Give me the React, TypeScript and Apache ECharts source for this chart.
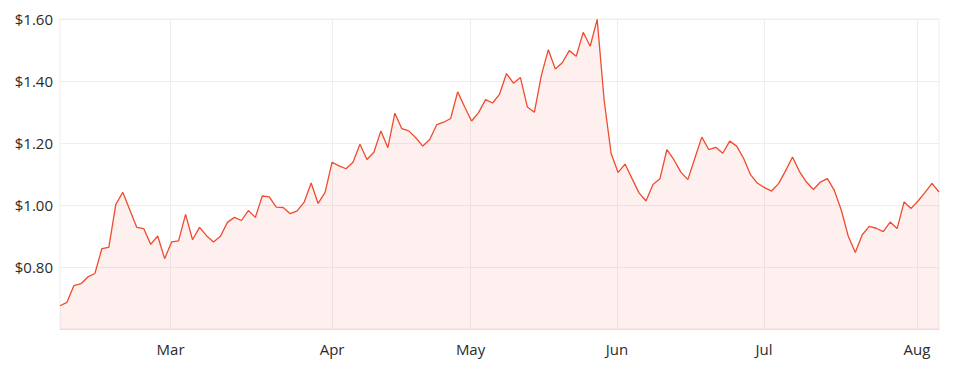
import React, { useEffect, useRef } from "react";
import * as echarts from "echarts";

// Daily closing prices (trading-day index order)
const prices: number[] = [
  0.675, 0.686, 0.74, 0.746, 0.768, 0.779, 0.859, 0.863, 1.002, 1.041,
  0.985, 0.928, 0.924, 0.873, 0.9, 0.827, 0.881, 0.884, 0.97, 0.888,
  0.928, 0.901, 0.881, 0.899, 0.944, 0.96, 0.95, 0.982, 0.96, 1.029,
  1.026, 0.993, 0.992, 0.972, 0.981, 1.009, 1.071, 1.005, 1.041, 1.138,
  1.126, 1.117, 1.138, 1.196, 1.147, 1.17, 1.239, 1.185, 1.296, 1.246,
  1.239, 1.217, 1.19, 1.211, 1.259, 1.267, 1.279, 1.365, 1.317, 1.271,
  1.298, 1.34, 1.329, 1.357, 1.424, 1.393, 1.411, 1.316, 1.299, 1.418,
  1.501, 1.439, 1.459, 1.498, 1.48, 1.557, 1.512, 1.599, 1.338, 1.166,
  1.105, 1.132, 1.085, 1.039, 1.013, 1.066, 1.085, 1.179, 1.146, 1.106,
  1.082, 1.151, 1.219, 1.179, 1.186, 1.167, 1.206, 1.19, 1.15, 1.097,
  1.07, 1.056, 1.045, 1.069, 1.11, 1.155, 1.108, 1.074, 1.05, 1.074,
  1.085, 1.047, 0.983, 0.899, 0.847, 0.904, 0.931, 0.925, 0.914, 0.945,
  0.924, 1.01, 0.989, 1.013, 1.041, 1.07, 1.042,
];

// Month boundaries on the trading-day index scale
const monthLabels: string[] = ["Mar", "Apr", "May", "Jun", "Jul", "Aug"];
const monthPositions: number[] = [15.85, 39.0, 58.85, 79.85, 100.9, 122.85];

const yMin = 0.6;
const yMax = 1.6;
const yStep = 0.2;

export default function App() {
  const ref = useRef<HTMLDivElement>(null);

  useEffect(() => {
    if (!ref.current) return;
    const chart = echarts.init(ref.current, undefined, { renderer: "svg" });
    const font = "Open Sans";
    chart.setOption({
      animation: false,
      grid: {
        left: 60,
        right: 17,
        top: 19,
        bottom: 37,
        show: true,
        borderColor: "#eeeeee",
        borderWidth: 1,
      },
      xAxis: {
        type: "value",
        min: 0,
        max: prices.length - 1,
        axisLine: { show: true, lineStyle: { color: "#e6dcdc", width: 1 } },
        axisTick: { show: false, customValues: monthPositions },
        axisLabel: {
          customValues: monthPositions,
          color: "#2b2b2b",
          fontFamily: font,
          fontSize: 15,
          margin: 12,
          formatter: (v: number) => {
            let best = 0;
            for (let i = 1; i < monthPositions.length; i++) {
              if (Math.abs(monthPositions[i] - v) < Math.abs(monthPositions[best] - v)) best = i;
            }
            return monthLabels[best];
          },
        },
        splitLine: { show: true, lineStyle: { color: "#eeeeee", width: 1 } },
      },
      yAxis: {
        type: "value",
        min: yMin,
        max: yMax,
        interval: yStep,
        axisLine: { show: false },
        axisTick: { show: false },
        axisLabel: {
          showMinLabel: false,
          color: "#2b2b2b",
          fontFamily: font,
          fontSize: 15,
          margin: 7,
          formatter: (v: number) => "$" + v.toFixed(2),
        },
        splitLine: { show: true, lineStyle: { color: "#eeeeee", width: 1 } },
      },
      series: [
        {
          type: "line",
          data: prices.map((p, i) => [i, p]),
          symbol: "none",
          lineStyle: { color: "#f04a2f", width: 1.3 },
          areaStyle: { color: "rgba(240,74,47,0.12)", origin: "start" },
        },
      ],
    });
    return () => chart.dispose();
  }, []);

  return (
    <div
      ref={ref}
      style={{ position: "absolute", left: 0, top: 0, width: 956, height: 366 }}
    />
  );
}
